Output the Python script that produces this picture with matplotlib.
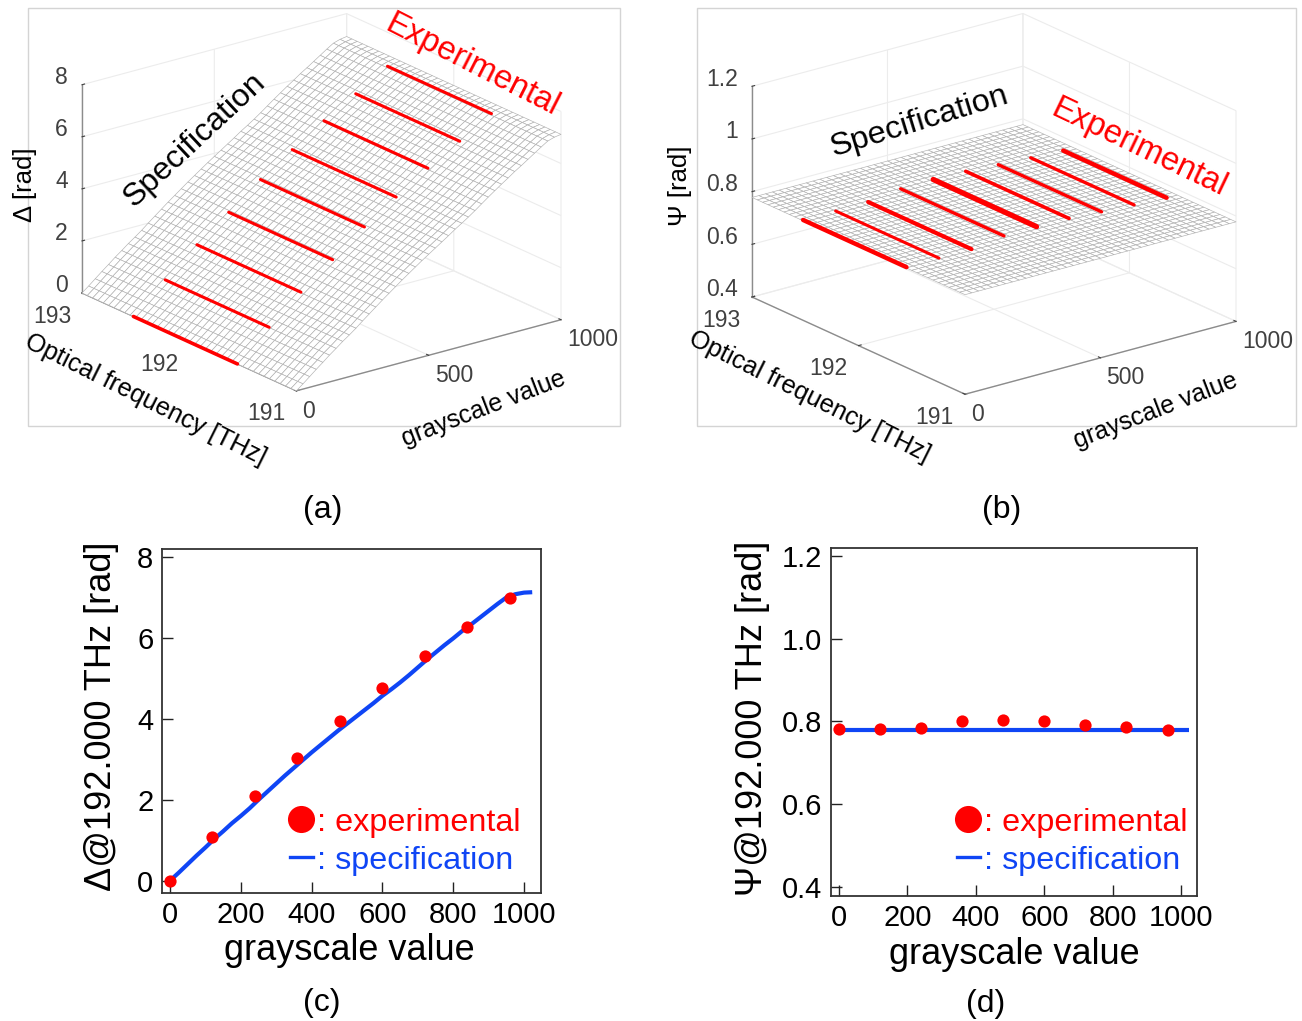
import numpy as np
import matplotlib
matplotlib.use("Agg")
import matplotlib.pyplot as plt
from matplotlib.lines import Line2D
from matplotlib.patches import Rectangle
from mpl_toolkits.mplot3d import proj3d

plt.rcParams['font.family'] = ['Liberation Sans', 'DejaVu Sans']
plt.rcParams['grid.color'] = '#ececec'
plt.rcParams['grid.linewidth'] = 0.8

W, H = 1302, 1021

# ---- data ----
gray_exp = [0, 120, 240, 360, 480, 600, 720, 840, 960]
delta_exp = [0.0, 1.08, 2.10, 3.02, 3.95, 4.77, 5.55, 6.26, 6.99]
psi_exp = [0.781, 0.782, 0.783, 0.800, 0.802, 0.800, 0.792, 0.785, 0.779]

gray_spec = [0, 25, 50, 75, 100, 125, 150, 175, 200, 225, 250, 275, 300, 325, 350, 375, 400,
             425, 450, 475, 500, 525, 550, 575, 600, 625, 650, 675, 700, 725, 750, 775, 800,
             825, 850, 875, 900, 925, 950, 975, 1000, 1023]
delta_spec = [0.0, 0.20, 0.41, 0.62, 0.82, 1.03, 1.22, 1.42, 1.60, 1.79, 2.00, 2.20, 2.40, 2.60,
              2.79, 2.98, 3.17, 3.35, 3.53, 3.71, 3.88, 4.05, 4.22, 4.39, 4.57, 4.73, 4.90, 5.08,
              5.27, 5.46, 5.64, 5.82, 5.99, 6.17, 6.33, 6.50, 6.67, 6.84, 7.00, 7.08, 7.12, 7.13]
psi_spec = [0.778] * len(gray_spec)

freq_grid = [191.0, 191.05, 191.1, 191.15, 191.2, 191.25, 191.3, 191.35, 191.4, 191.45, 191.5,
             191.55, 191.6, 191.65, 191.7, 191.75, 191.8, 191.85, 191.9, 191.95, 192.0, 192.05,
             192.1, 192.15, 192.2, 192.25, 192.3, 192.35, 192.4, 192.45, 192.5, 192.55, 192.6,
             192.65, 192.7, 192.75, 192.8, 192.85, 192.9, 192.95, 193.0]
freq_exp = [192.52, 191.55]

freq_ticks = [193, 192, 191]
gray_ticks3d = [0, 500, 1000]
delta_ticks3d = [0, 2, 4, 6, 8]
psi_ticks3d = [0.4, 0.6, 0.8, 1.0, 1.2]
psi_ticklabels3d = ['0.4', '0.6', '0.8', '1', '1.2']
psi_lw = [3.2, 2.2, 3.0, 2.4, 3.8, 2.6, 2.4, 2.4, 3.2]
delta_lw = [2.6, 2.2, 2.2, 2.2, 2.2, 2.2, 2.2, 2.2, 2.2]

RED = '#ff0000'
BLUE = '#0f45f5'

fig = plt.figure(figsize=(W / 100, H / 100), dpi=100, facecolor='white')


def px(x, y):
    return x / W, 1 - y / H


def ftext(x, y, s, **kw):
    fx, fy = px(x, y)
    kw.setdefault('ha', 'center')
    kw.setdefault('va', 'center')
    kw.setdefault('rotation_mode', 'anchor')
    return fig.text(fx, fy, s, **kw)


def frame(x0, y0, x1, y1):
    fig.add_artist(Rectangle((x0 / W, 1 - y1 / H), (x1 - x0) / W, (y1 - y0) / H,
                             transform=fig.transFigure, fill=False, ec='#d4d4d4', lw=1.0))


def project(ax, pt):
    xp, yp, _ = proj3d.proj_transform(pt[0], pt[1], pt[2], ax.get_proj())
    return ax.transData.transform((xp, yp))


def place(ax, pt_a, pix_a, pt_c, pix_c):
    """Scale and move the 3-D axes so two box corners land on the wanted pixels."""
    for _ in range(3):
        fig.canvas.draw()
        a = project(ax, pt_a)
        c = project(ax, pt_c)
        s = (pix_c[0] - pix_a[0]) / (c[0] - a[0])
        box = ax.get_position()
        side = box.width * W * s
        want_a = np.array([pix_a[0], H - pix_a[1]])
        cen = np.array([box.x0 * W + box.width * W / 2, box.y0 * H + box.height * H / 2])
        new_cen = want_a - (a - cen) * s
        ax.set_position([(new_cen[0] - side / 2) / W, (new_cen[1] - side / 2) / H, side / W, side / H])


def surface_panel(rect, zvals, zexp, zlim, zticks, zticklabels, aspect, lws, pa, pc):
    ax = fig.add_axes(rect, projection='3d', computed_zorder=False)
    ax.set_proj_type('ortho')
    ax.view_init(elev=20.5, azim=-37.5)
    ax.set_box_aspect(aspect)
    ax.set_xlim(193, 191)
    ax.set_ylim(0, 1000)
    ax.set_zlim(*zlim)
    ax.patch.set_alpha(0)
    F, G = np.meshgrid(freq_grid, gray_spec[:-1])
    Z = np.tile(np.array(zvals[:-1])[:, None], (1, len(freq_grid)))
    ax.plot_surface(F, G, Z, rstride=1, cstride=1, color='white', edgecolor='#b0b0b0',
                    linewidth=0.45, shade=False, antialiased=True, zorder=2)
    for g, z, lw in zip(gray_exp, zexp, lws):
        ax.plot(freq_exp, [g, g], [z, z], color=RED, lw=lw, zorder=5, solid_capstyle='round')
    ax.set_xticks(freq_ticks)
    ax.set_yticks(gray_ticks3d)
    ax.set_zticks(zticks)
    ax.set_zticklabels(zticklabels)
    ax.tick_params(colors='#404040', labelsize=16.5)
    ax.tick_params(axis='x', pad=0)
    ax.tick_params(axis='y', pad=-2.5)
    ax.tick_params(axis='z', pad=-2.2)
    for t in ax.get_xticklabels():
        t.set_ha('right')
    for t in ax.get_yticklabels():
        t.set_ha('left')
    for t in ax.get_zticklabels():
        t.set_ha('right')
        t.set_va('baseline')
    for axis in (ax.xaxis, ax.yaxis, ax.zaxis):
        axis.set_pane_color((1, 1, 1, 0))
        axis.pane.set_edgecolor('#ececec')
        axis.line.set_color('#8c8c8c')
        axis.line.set_linewidth(1.0)
        axis._axinfo['tick']['color'] = '#8c8c8c'
        axis._axinfo['tick']['inward_factor'] = 0.0
        axis._axinfo['tick']['outward_factor'] = 0.12
    ax.zaxis.set_ticks_position('lower')
    ax.zaxis.set_label_position('lower')
    place(ax, (193, 0, zlim[0]), pa, (191, 1000, zlim[0]), pc)
    return ax


def line_panel(box, xlim, ylim, yticks, yticklabels, gray, spec, exp, ylabel, ylabx, xlab_xy, legend_xy):
    x0, y0, x1, y1 = box
    ax = fig.add_axes([x0 / W, 1 - y1 / H, (x1 - x0) / W, (y1 - y0) / H])
    ax.plot(gray, spec, color=BLUE, lw=3.0, zorder=2, solid_capstyle='butt')
    ax.plot(gray_exp, exp, 'o', color=RED, ms=8.8, mew=0, zorder=3)
    ax.set_xlim(*xlim)
    ax.set_ylim(*ylim)
    ax.set_xticks([0, 200, 400, 600, 800, 1000])
    ax.set_yticks(yticks)
    ax.set_yticklabels(yticklabels)
    ax.tick_params(direction='in', length=8, width=1.0, labelsize=21, color='#222222', pad=6)
    for s in ax.spines.values():
        s.set_linewidth(1.3)
        s.set_color('#333333')
    ax.set_ylabel(ylabel, fontsize=26)
    ax.yaxis.set_label_coords((ylabx - x0) / (x1 - x0), 0.512)
    ax.set_xlabel('grayscale value', fontsize=26)
    ax.xaxis.set_label_coords((xlab_xy[0] - x0) / (x1 - x0), (y1 - xlab_xy[1]) / (y1 - y0),
                              transform=ax.transAxes)
    ax.xaxis.label.set_va('center')
    ax.yaxis.label.set_va('center')
    handles = [Line2D([], [], marker='o', ls='none', color=RED, ms=19.5, mew=0),
               Line2D([], [], color=BLUE, lw=2.4)]
    ax.legend(handles, [': experimental', ': specification'], frameon=False, fontsize=23.3,
              labelcolor=[RED, BLUE], handlelength=0.72, handletextpad=0.14, labelspacing=0.24,
              borderpad=0, borderaxespad=0, loc='lower left',
              bbox_to_anchor=((legend_xy[0] - x0) / (x1 - x0), (y1 - legend_xy[1]) / (y1 - y0)))
    return ax


# ---- panels (a), (b) ----
frame(28, 8, 620, 426)
frame(697, 8, 1296, 426)

axa = surface_panel([0.02, 0.55, 0.4, 0.4], delta_spec, delta_exp, (0, 8), delta_ticks3d,
                    [str(v) for v in delta_ticks3d], (350, 331.5, 221), delta_lw, (82, 293), (561, 317))
axb = surface_panel([0.55, 0.55, 0.4, 0.4], psi_spec, psi_exp, (0.4, 1.2), psi_ticks3d,
                    psi_ticklabels3d, (350, 341.6, 225), psi_lw, (752, 297), (1236, 322))

ftext(25, 185, 'Δ [rad]', fontsize=18.5, rotation=90)
ftext(195, 140, 'Specification', fontsize=23, rotation=43)
ftext(472, 65, 'Experimental', fontsize=23.5, rotation=-27, color=RED)
ftext(145, 400, 'Optical frequency [THz]', fontsize=18.3, rotation=-26.5)
ftext(484, 409, 'grayscale value', fontsize=18, rotation=21)

ftext(680, 186, 'Ψ [rad]', fontsize=18.5, rotation=90)
ftext(919, 122, 'Specification', fontsize=23.4, rotation=17)
ftext(1139, 148, 'Experimental', fontsize=23.5, rotation=-25.5, color=RED)
ftext(809, 397, 'Optical frequency [THz]', fontsize=18.3, rotation=-26.5)
ftext(1156, 411, 'grayscale value', fontsize=18, rotation=21)

# ---- panels (c), (d) ----
line_panel((161.7, 549, 540.7, 892.7), (-23.4, 1047), (-0.297, 8.198), [0, 2, 4, 6, 8],
           ['0', '2', '4', '6', '8'], gray_spec, delta_spec, delta_exp,
           'Δ@192.000 THz [rad]', 102, (349, 950), (289.5, 875.5))
line_panel((830.7, 548.3, 1197.3, 895.7), (-24.4, 1047), (0.378, 1.2186), [0.4, 0.6, 0.8, 1.0, 1.2],
           ['0.4', '0.6', '0.8', '1.0', '1.2'], gray_spec, psi_spec, psi_exp,
           'Ψ@192.000 THz [rad]', 753, (1014, 954), (956.5, 875.5))

ftext(323, 510, '(a)', fontsize=23)
ftext(1002, 510, '(b)', fontsize=23)
ftext(322, 1003, '(c)', fontsize=23)
ftext(986, 1004, '(d)', fontsize=23)

fig.savefig('out.png', dpi=100, facecolor='white')
